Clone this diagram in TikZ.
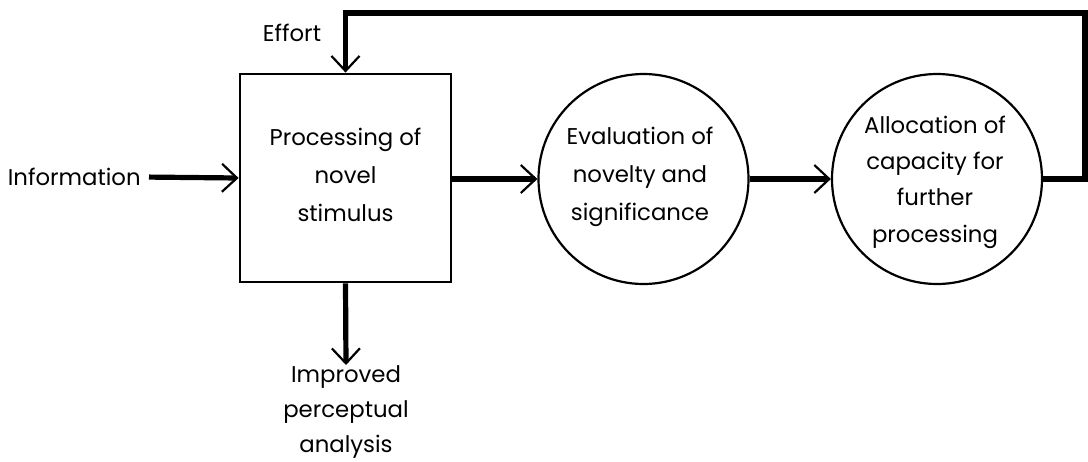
\documentclass[tikz,border=0pt]{standalone}
\usepackage{fontspec}
\setmainfont{Poppins}
\usetikzlibrary{arrows.meta}
\begin{document}
\begin{tikzpicture}[x=0.5pt,y=-0.5pt,
  lbl/.style={font=\fontsize{11.4}{19}\selectfont, align=center, inner sep=0pt},
  procbox/.style={draw, line width=1.4pt, minimum width=105.5pt, minimum height=104pt, inner sep=0pt},
  evalcirc/.style={draw, circle, line width=1.1pt, minimum size=105pt, inner sep=0pt},
  arr/.style={line width=2.6pt, -{Straight Barb[length=7.5pt, width=14pt, line width=1.1pt]}}
]
\useasboundingbox (0,0) rectangle (1088,461);
\node[procbox] (box) at (345.5,178) {};
\node[lbl] at (345.5,175) {Processing of\\novel\\stimulus};
\node[evalcirc] (e1) at (643.5,179) {};
\node[lbl] at (640,177) {Evaluation of\\novelty and\\significance};
\node[evalcirc] (e2) at (937,179) {};
\node[lbl, font=\fontsize{11.4}{18.2}\selectfont] at (935,182) {Allocation of\\capacity for\\further\\processing};
\node[lbl, anchor=east] (info) at (141,177) {Information};
\node[lbl] (effort) at (292,33) {Effort};
\node[lbl, anchor=north, font=\fontsize{11.4}{17.6}\selectfont] (imp) at (346,365) {Improved\\perceptual\\analysis};
\coordinate (fbR) at (1085,13);
\draw[arr, shorten <=4pt] (info.east) -- (box.west);
\draw[arr] (box.east |- 0,179) -- (e1.west);
\draw[arr] (e1.east) -- (e2.west);
\draw[arr] (e2.east) -| (fbR) -| (box.north);
\draw[arr] (box.south) -- (imp.north);
\end{tikzpicture}
\end{document}
